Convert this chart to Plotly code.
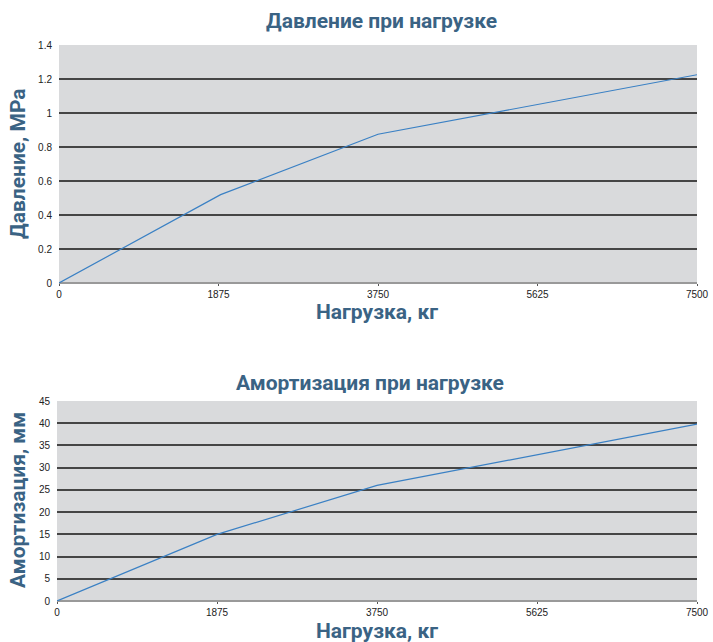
import plotly.graph_objects as go

load_kg = [0, 1900, 3750, 7500]
pressure_mpa = [0, 0.52, 0.875, 1.225]
load_kg_2 = [0, 1875, 3750, 7500]
damping_mm = [0, 15, 26, 39.8]
x_ticks = [0, 1875, 3750, 5625, 7500]

TITLE_C = "#3a6384"
LINE_C = "#3a80c4"
BG = "#d9dadc"
TF = "Roboto, 'Open Sans', sans-serif"
TICKF = dict(family="'Liberation Sans Narrow', 'Liberation Sans', sans-serif", size=10, color="#222")

fig = go.Figure()
fig.add_trace(go.Scatter(x=load_kg, y=pressure_mpa, mode="lines",
                         line=dict(color=LINE_C, width=1.2), xaxis="x", yaxis="y"))
fig.add_trace(go.Scatter(x=load_kg_2, y=damping_mm, mode="lines",
                         line=dict(color=LINE_C, width=1.2), xaxis="x2", yaxis="y2"))

W, H = 713, 642
L, R = 57, 16
pw = W - L - R

def ydom(top_px, bot_px):
    return [1 - bot_px / H, 1 - top_px / H]

xcommon = dict(range=[0, 7500], tickvals=x_ticks, ticks="outside", ticklen=2,
               tickcolor="#555", showgrid=False, zeroline=False, showline=False,
               tickfont=TICKF, fixedrange=True, automargin=False)
ycommon = dict(showgrid=True, gridcolor="#454545", gridwidth=1.6, zeroline=True,
               zerolinecolor="#999", zerolinewidth=1.5, ticks="", tickfont=TICKF,
               showline=False, automargin=False, ticklabelstandoff=6, fixedrange=True)

fig.update_layout(
    width=W, height=H,
    margin=dict(l=L, r=R, t=0, b=0, autoexpand=False),
    paper_bgcolor="white", plot_bgcolor=BG,
    showlegend=False,
    xaxis=dict(domain=[2 / pw, 1], anchor="y", **xcommon),
    yaxis=dict(domain=ydom(45, 283), range=[0, 1.4], dtick=0.2, anchor="x", **ycommon),
    xaxis2=dict(domain=[0, 1], anchor="y2", **xcommon),
    yaxis2=dict(domain=ydom(401, 601), range=[0, 45], dtick=5, anchor="x2", **ycommon),
)

def px_x(x):
    return (x - L) / pw

def ann2(text, x, y, size, angle=0):
    fig.add_annotation(text=text, x=px_x(x), y=1 - y / H, xref="paper", yref="paper",
                       showarrow=False, textangle=angle,
                       font=dict(family=TF, size=size, color=TITLE_C, weight="bold"),
                       xanchor="center", yanchor="middle")

ann2("Давление при нагрузке", 381, 21, 21)
ann2("Нагрузка, кг", 377, 312, 21)
ann2("Давление, MPa", 18, 164, 21, -90)
ann2("Амортизация при нагрузке", 370, 383, 21)
ann2("Нагрузка, кг", 377, 631, 21)
ann2("Амортизация, мм", 18, 500, 21, -90)

fig.write_html("out.html", config={"displayModeBar": False},
               post_script="document.body.style.margin='0';document.body.style.overflow='hidden';")
